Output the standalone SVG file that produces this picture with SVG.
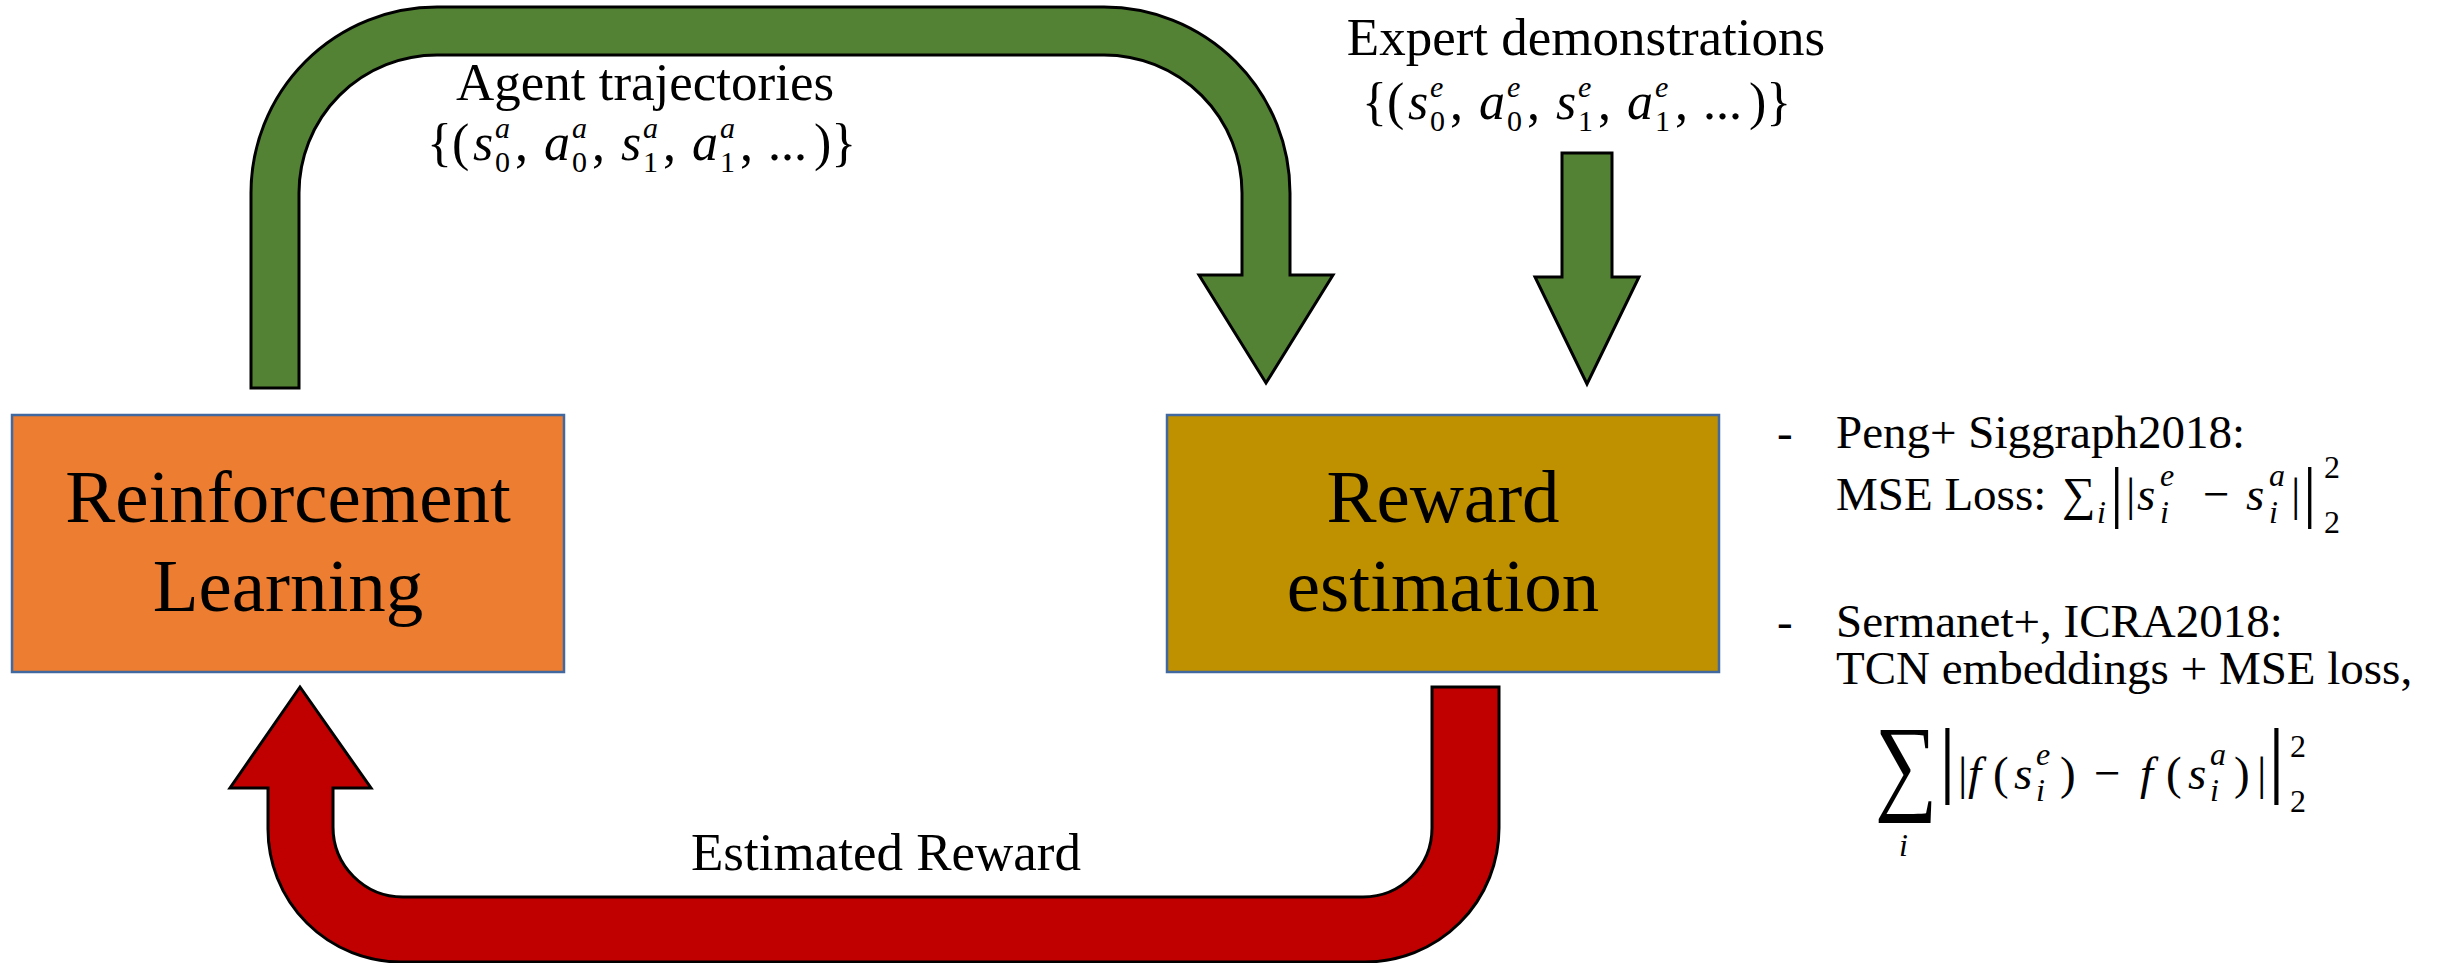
<svg xmlns="http://www.w3.org/2000/svg" width="2451" height="963" viewBox="0 0 2451 963">
<style>
text{font-family:"Liberation Serif","Times New Roman",serif;fill:#000}
.i{font-style:italic}
.ms{font-size:52px}
.mx{font-size:30px}
.sc{font-size:32px}
.mm{font-size:47px}
.node{stroke:#41689F;stroke-width:2.5}
.arrow{stroke:#000;stroke-width:3;stroke-linejoin:miter}
.green{fill:#548235}
.red{fill:#C00000}
.box{font-size:75px}
.lab{font-size:53px}
.note{font-size:47px}
</style>
<rect width="2451" height="963" fill="#fff"/>
<g id="connectors">
  <path id="agent-arrow" class="arrow green" d="M 251 388 L 251 193 A 186 186 0 0 1 437 7 L 1104 7 A 186 186 0 0 1 1290 193 L 1290 275 L 1333 275 L 1266 383 L 1199 275 L 1242 275 L 1242 193 A 138 138 0 0 0 1104 55 L 437 55 A 138 138 0 0 0 299 193 L 299 388 Z"/>
  <path id="expert-arrow" class="arrow green" d="M 1562 153 L 1612 153 L 1612 277 L 1639 277 L 1587 384 L 1535 277 L 1562 277 Z"/>
  <path id="reward-arrow" class="arrow red" d="M 300 687 L 371 788 L 333 788 L 333 827 A 70 70 0 0 0 403 897 L 1363 897 A 69 69 0 0 0 1432 828 L 1432 687 L 1499 687 L 1499 828 A 134 134 0 0 1 1365 962 L 401 962 A 133 133 0 0 1 268 829 L 268 788 L 230 788 Z"/>
  <g id="agent-label">
    <text class="lab" x="645" y="100" text-anchor="middle">Agent trajectories</text>
    <g transform="translate(427,160)">
      <text class="ms" x="0" y="0">{(</text>
      <text class="ms i" x="46" y="0">s</text>
      <text class="mx i" x="68" y="-22">a</text><text class="mx" x="68" y="12">0</text>
      <text class="ms" x="88" y="0">,</text>
      <text class="ms i" x="117" y="0">a</text>
      <text class="mx i" x="145" y="-22">a</text><text class="mx" x="145" y="12">0</text>
      <text class="ms" x="165" y="0">,</text>
      <text class="ms i" x="194" y="0">s</text>
      <text class="mx i" x="216" y="-22">a</text><text class="mx" x="216" y="12">1</text>
      <text class="ms" x="236" y="0">,</text>
      <text class="ms i" x="265" y="0">a</text>
      <text class="mx i" x="293" y="-22">a</text><text class="mx" x="293" y="12">1</text>
      <text class="ms" x="313" y="0">,</text>
      <text class="ms" x="341" y="0">...</text>
      <text class="ms" x="387" y="0">)}</text>
    </g>
  </g>
  <g id="expert-label">
    <text class="lab" x="1586" y="55" text-anchor="middle">Expert demonstrations</text>
    <g transform="translate(1362,119)">
      <text class="ms" x="0" y="0">{(</text>
      <text class="ms i" x="46" y="0">s</text>
      <text class="mx i" x="68" y="-22">e</text><text class="mx" x="68" y="12">0</text>
      <text class="ms" x="88" y="0">,</text>
      <text class="ms i" x="117" y="0">a</text>
      <text class="mx i" x="145" y="-22">e</text><text class="mx" x="145" y="12">0</text>
      <text class="ms" x="165" y="0">,</text>
      <text class="ms i" x="194" y="0">s</text>
      <text class="mx i" x="216" y="-22">e</text><text class="mx" x="216" y="12">1</text>
      <text class="ms" x="236" y="0">,</text>
      <text class="ms i" x="265" y="0">a</text>
      <text class="mx i" x="293" y="-22">e</text><text class="mx" x="293" y="12">1</text>
      <text class="ms" x="313" y="0">,</text>
      <text class="ms" x="341" y="0">...</text>
      <text class="ms" x="387" y="0">)}</text>
    </g>
  </g>
  <text id="reward-label" font-size="53" x="886" y="870" text-anchor="middle">Estimated Reward</text>
</g>
<g id="rl">
  <rect class="node" x="12" y="415" width="552" height="257" fill="#ED7D31"/>
  <text class="box" x="288" y="522" text-anchor="middle">Reinforcement</text>
  <text class="box" x="288" y="611" text-anchor="middle">Learning</text>
</g>
<g id="reward">
  <rect class="node" x="1167" y="415" width="552" height="257" fill="#BF9000"/>
  <text class="box" x="1443" y="522" text-anchor="middle">Reward</text>
  <text class="box" x="1443" y="611" text-anchor="middle">estimation</text>
</g>
<g id="notes">
  <text class="note" x="1777" y="448">-</text>
  <text class="note" x="1836" y="448">Peng+ Siggraph2018:</text>
  <text class="note" x="1836" y="510">MSE Loss: </text>
  <text class="mm" x="2062" y="510">∑</text>
  <text class="sc i" x="2097" y="523">i</text>
  <text font-size="67" x="2110" y="515">|</text>
  <text class="mm" x="2126" y="510">|</text>
  <text class="mm i" x="2137" y="510">s</text>
  <text class="sc i" x="2160" y="486">e</text><text class="sc i" x="2160" y="523">i</text>
  <text class="mm" x="2203" y="510">−</text>
  <text class="mm i" x="2246" y="510">s</text>
  <text class="sc i" x="2269" y="486">a</text><text class="sc i" x="2269" y="523">i</text>
  <text class="mm" x="2291" y="510">|</text>
  <text font-size="67" x="2303" y="515">|</text>
  <text class="sc" x="2324" y="478">2</text><text class="sc" x="2324" y="533">2</text>

  <text class="note" x="1777" y="637">-</text>
  <text class="note" x="1836" y="637">Sermanet+, ICRA2018:</text>
  <text class="note" x="1836" y="684">TCN embeddings + MSE loss,</text>
  <text font-size="100" x="0" y="0" text-anchor="middle" transform="translate(1906,800) scale(0.88,1.07)">∑</text>
  <text class="sc i" x="1899" y="856">i</text>
  <text font-size="84" x="1939" y="787">|</text>
  <text class="mm" x="1958" y="789">|</text>
  <text class="mm i" x="1968" y="789">f</text>
  <text class="mm" x="1993" y="789">(</text>
  <text class="mm i" x="2014" y="789">s</text>
  <text class="sc i" x="2036" y="765">e</text><text class="sc i" x="2036" y="801">i</text>
  <text class="mm" x="2060" y="789">)</text>
  <text class="mm" x="2094" y="789">−</text>
  <text class="mm i" x="2140" y="789">f</text>
  <text class="mm" x="2166" y="789">(</text>
  <text class="mm i" x="2188" y="789">s</text>
  <text class="sc i" x="2210" y="765">a</text><text class="sc i" x="2210" y="801">i</text>
  <text class="mm" x="2234" y="789">)</text>
  <text class="mm" x="2257" y="789">|</text>
  <text font-size="84" x="2268" y="787">|</text>
  <text class="sc" x="2290" y="757">2</text><text class="sc" x="2290" y="812">2</text>
</g>
</svg>
